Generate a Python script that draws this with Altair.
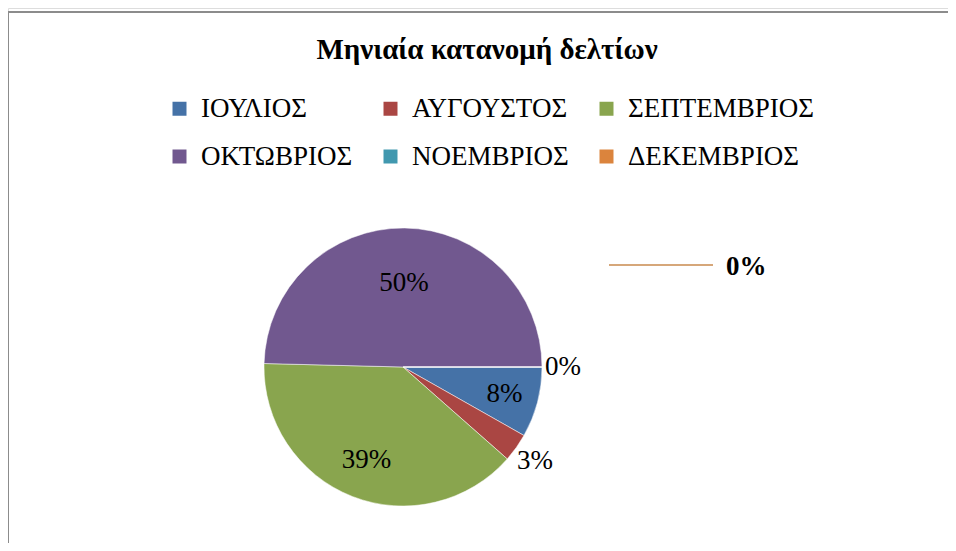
import math
import altair as alt
import pandas as pd

months = ["ΙΟΥΛΙΟΣ", "ΑΥΓΟΥΣΤΟΣ", "ΣΕΠΤΕΜΒΡΙΟΣ", "ΟΚΤΩΒΡΙΟΣ", "ΝΟΕΜΒΡΙΟΣ", "ΔΕΚΕΜΒΡΙΟΣ"]
shares = [8.2, 3.3, 38.9, 49.6, 0.0, 0.0]
labels = ["8%", "3%", "39%", "50%", "0%", "0%"]
colors = ["#4572A7", "#AA4643", "#89A54E", "#71588F", "#4198AF", "#DB843D"]
label_radius = [105, 162, 100, 84, 160, 160]

df = pd.DataFrame({
    "month": months,
    "value": shares,
    "label": labels,
    "order": list(range(len(months))),
    "lr": label_radius,
})

W, H = 940, 535
CX, CY, R = 395, 359, 139
SERIF = "Liberation Serif"

theta_scale = alt.Scale(domain=[0, 100], range=[math.pi / 2, math.pi / 2 + 2 * math.pi])
color = alt.Color(
    "month:N",
    sort=months,
    scale=alt.Scale(domain=months, range=colors),
    legend=alt.Legend(
        title=None,
        orient="none",
        legendX=158,
        legendY=87,
        columns=3,
        direction="horizontal",
        gridAlign="each",
        columnPadding=24,
        rowPadding=20,
        symbolType="square",
        symbolSize=196,
        symbolStrokeWidth=0,
        symbolOffset=0,
        labelFont=SERIF,
        labelFontSize=27,
        labelColor="#000000",
        labelOffset=8,
        labelLimit=400,
        padding=0,
    ),
)

base = alt.Chart(df)

pie = base.mark_arc(outerRadius=R, stroke="white", strokeWidth=0.5).encode(
    theta=alt.Theta("value:Q", stack=True, scale=theta_scale),
    color=color,
    order=alt.Order("order:Q"),
    x=alt.value(CX),
    y=alt.value(CY),
)

texts = base.transform_window(
    cum="sum(value)", sort=[alt.SortField("order")]
).transform_calculate(
    mid="datum.cum - datum.value / 2"
).transform_filter(alt.datum.month != "ΔΕΚΕΜΒΡΙΟΣ").mark_text(
    font=SERIF, fontSize=27, color="#000000"
).encode(
    theta=alt.Theta("mid:Q", stack=None, scale=theta_scale),
    radius=alt.Radius("lr:Q", scale=None),
    text="label:N",
    x=alt.value(CX),
    y=alt.value(CY),
)

dec_label = base.transform_filter(alt.datum.month == "ΔΕΚΕΜΒΡΙΟΣ").mark_text(
    font=SERIF, fontSize=27, fontWeight="bold", color="#000000", align="left"
).encode(text="label:N", x=alt.value(718), y=alt.value(259))

leader = base.transform_filter(alt.datum.month == "ΔΕΚΕΜΒΡΙΟΣ").mark_rule(
    color="#C98A4E", strokeWidth=1.3
).encode(x=alt.value(601), x2=alt.value(705), y=alt.value(257))

title = alt.Chart(pd.DataFrame({"t": ["Μηνιαία κατανομή δελτίων"]})).mark_text(
    font=SERIF, fontSize=29, fontWeight="bold", color="#000000"
).encode(text="t:N", x=alt.value(479), y=alt.value(42))

border_top = alt.Chart(pd.DataFrame({"a": [0]})).mark_rule(color="#8C8C8C", strokeWidth=2).encode(
    x=alt.value(0), x2=alt.value(W), y=alt.value(4)
)
border_left = alt.Chart(pd.DataFrame({"a": [0]})).mark_rule(color="#8C8C8C", strokeWidth=2).encode(
    x=alt.value(0), y=alt.value(4), y2=alt.value(H)
)

chart = alt.layer(border_top, border_left, pie, texts, leader, dec_label, title).properties(
    width=W, height=H, padding=0, autosize=alt.AutoSizeParams(type="none")
).configure_view(stroke=None).configure(background="white")

chart.save("out.html", embed_options={"renderer": "svg", "actions": False})
